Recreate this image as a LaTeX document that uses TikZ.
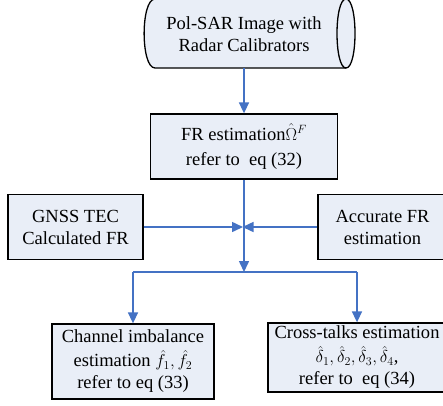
\documentclass[tikz,border=0pt]{standalone}
\usepackage{fontspec}
\setmainfont{Liberation Serif}
\usetikzlibrary{arrows.meta}
\definecolor{boxfill}{HTML}{E9EEF7}
\definecolor{arrowblue}{HTML}{4472C4}
\begin{document}
\begin{tikzpicture}[x=1pt,y=-1pt,
  txt/.style={align=center, inner sep=0pt, font=\fontsize{18.5}{22}\selectfont},
  box/.style={txt, draw=black, line width=1.3pt, fill=boxfill},
  arr/.style={draw=arrowblue, line width=1.5pt, -{Triangle[length=11pt,width=10pt]}},
  ln/.style={draw=arrowblue, line width=1.5pt}]
\useasboundingbox (0,0) rectangle (443,405);
% cylinder outline
\filldraw[fill=boxfill, line width=1.3pt]
  (155,-1) -- (346,-1) .. controls (358,-1) and (358,68) .. (346,68)
  -- (155,68) .. controls (140.5,68) and (140.5,-1) .. cycle;
\draw[line width=1.3pt] (346,-1) .. controls (334,-1) and (334,68) .. (346,68);
\node[txt] (img) at (244,34) {Pol-SAR Image with\\Radar Calibrators};
\coordinate (imgbot) at (244,68);
% boxes
\node[box, minimum width=187pt, minimum height=65pt] (fr) at (244,146.5)
  {FR estimation$\hat{\Omega}^{F}$\\[3pt]refer to\ \ eq (32)};
\node[box, minimum width=135pt, minimum height=65pt] (gnss) at (75.5,227)
  {GNSS TEC\\Calculated FR};
\node[box, minimum width=129pt, minimum height=65pt] (acc) at (382.5,227)
  {Accurate FR\\estimation};
\node[box, minimum width=162pt, minimum height=75pt] (chan) at (133,361.5)
  {Channel imbalance\\[2pt]estimation $\hat{f}_1,\hat{f}_2$\\refer to eq (33)};
\node[box, minimum width=178pt, minimum height=69pt] (cross) at (357,357.5)
  {Cross-talks estimation\\[2pt]$\hat{\delta}_1,\hat{\delta}_2,\hat{\delta}_3,\hat{\delta}_4$,\\refer to\ \ eq (34)};
\coordinate (j) at (244,227);
\coordinate (br) at (244,272);
% connectors
\draw[arr] (fr.north |- imgbot) -- (fr.north);
\draw[ln] (fr.south) -- (j);
\draw[arr] (j) -- (br);
\draw[arr, shorten >=1pt] (gnss.east) -- (j);
\draw[arr, shorten >=-1.5pt] (acc.west) -- (j);
\draw[ln] (chan.north |- br) -- (cross.north |- br);
\draw[arr] (chan.north |- br) -- (chan.north);
\draw[arr] (cross.north |- br) -- (cross.north);
\end{tikzpicture}
\end{document}
